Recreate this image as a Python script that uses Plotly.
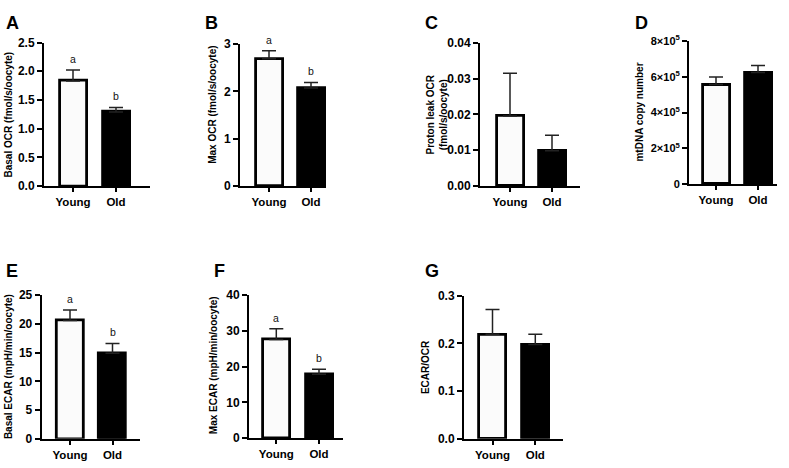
import plotly.graph_objects as go

groups = ["Young", "Old"]

basal_ocr = [1.83, 1.29]
basal_ocr_err = [0.19, 0.08]
max_ocr = [2.69, 2.07]
max_ocr_err = [0.17, 0.12]
proton_leak = [0.0196, 0.0099]
proton_leak_err = [0.0119, 0.0043]
mtdna = [5.57e5, 6.23e5]
mtdna_err = [0.41e5, 0.40e5]
basal_ecar = [20.6, 14.9]
basal_ecar_err = [1.8, 1.7]
max_ecar = [27.6, 17.9]
max_ecar_err = [3.0, 1.4]
ecar_ocr = [0.219, 0.198]
ecar_ocr_err = [0.052, 0.021]

sig_letters = ["a", "b"]

mtdna_ticks = [0, 2e5, 4e5, 6e5, 8e5]
mtdna_ticktext = ["0", "2×10<sup>5</sup>", "4×10<sup>5</sup>", "6×10<sup>5</sup>", "8×10<sup>5</sup>"]

W, H = 789, 468
FONT = "Liberation Sans, Arial, sans-serif"

panels = [
    dict(letter="A", vals=basal_ocr, errs=basal_ocr_err, sig=True,
         title="Basal OCR (fmol/s/oocyte)", ymax=2.5, dtick=0.5, fmt=".1f",
         xs=44, xe=150, c0=73, c1=116, yb=184, yt=35.7,
         tx=8, ty=110, lx=4, ly=15),
    dict(letter="B", vals=max_ocr, errs=max_ocr_err, sig=True,
         title="Max OCR (fmol/s/oocyte)", ymax=3, dtick=1, fmt="d",
         xs=240, xe=326, c0=269, c1=311, yb=184, yt=37.3,
         tx=213, ty=100, lx=203, ly=15),
    dict(letter="C", vals=proton_leak, errs=proton_leak_err, sig=False,
         title="Proton leak OCR<br>(fmol/s/oocyte)", ymax=0.04, dtick=0.01, fmt=".2f",
         xs=480, xe=580, c0=510, c1=552, yb=184, yt=36,
         tx=437, ty=110, lx=423, ly=15),
    dict(letter="D", vals=mtdna, errs=mtdna_err, sig=False,
         title="mtDNA copy number", ymax=8e5, dtick=None, fmt=None,
         xs=689, xe=777, c0=716, c1=758, yb=182, yt=34,
         tx=640, ty=108, lx=633, ly=15),
    dict(letter="E", vals=basal_ecar, errs=basal_ecar_err, sig=True,
         title="Basal ECAR (mpH/min/oocyte)", ymax=25, dtick=5, fmt="d",
         xs=41.7, xe=140, c0=70, c1=112.5, yb=445, yt=296.7,
         tx=8, ty=371, lx=4, ly=272),
    dict(letter="F", vals=max_ecar, errs=max_ecar_err, sig=True,
         title="Max ECAR (mpH/min/oocyte)", ymax=40, dtick=10, fmt="d",
         xs=249, xe=343, c0=276.3, c1=319, yb=444.5, yt=296.7,
         tx=213, ty=369, lx=212, ly=272),
    dict(letter="G", vals=ecar_ocr, errs=ecar_ocr_err, sig=False,
         title="ECAR/OCR", ymax=0.3, dtick=0.1, fmt=".1f",
         xs=464, xe=563, c0=492.5, c1=535.3, yb=445, yt=297.3,
         tx=425, ty=371, lx=423, ly=272),
]

fig = go.Figure()
annotations = []
layout = {}

for i, p in enumerate(panels):
    n = "" if i == 0 else str(i + 1)
    xa, ya = "x" + n, "y" + n
    s = p["c1"] - p["c0"]
    xr = [(p["xs"] - p["c0"]) / s, 1 + (p["xe"] - p["c1"]) / s]
    bw = 27.0 / s
    for j, g in enumerate(groups):
        fill = "#fbfbfb" if j == 0 else "black"
        fig.add_trace(go.Bar(
            x=[g], y=[p["vals"][j]], xaxis=xa, yaxis=ya, width=bw,
            marker=dict(color=fill, line=dict(color="black", width=2.8)),
            error_y=dict(type="data", array=[p["errs"][j]], arrayminus=[0],
                         symmetric=False, color="#222222", thickness=1.5, width=7),
            showlegend=False, hoverinfo="skip"))
        if p["sig"]:
            annotations.append(dict(
                x=g, y=p["vals"][j] + p["errs"][j], xref=xa, yref=ya,
                text=sig_letters[j], showarrow=False, yanchor="bottom", yshift=3,
                font=dict(family=FONT, size=10.5, color="#111")))
    xaxis = dict(domain=[p["xs"] / W, p["xe"] / W], range=xr, anchor=ya,
                 type="category", categoryorder="array", categoryarray=groups,
                 showline=True, linewidth=2, linecolor="black", ticks="outside",
                 ticklen=4, tickwidth=1.5, tickcolor="black", showgrid=False,
                 zeroline=False, fixedrange=True,
                 tickfont=dict(family=FONT, size=11.5, color="black", weight="bold"))
    yaxis = dict(domain=[1 - p["yb"] / H, 1 - p["yt"] / H], range=[0, p["ymax"]],
                 anchor=xa, showline=True, linewidth=2, linecolor="black",
                 ticks="outside", ticklen=5, tickwidth=1.5, tickcolor="black",
                 showgrid=False, zeroline=False, fixedrange=True,
                 tickfont=dict(family=FONT, size=12, color="black", weight="bold"))
    if p["dtick"] is not None:
        yaxis.update(tick0=0, dtick=p["dtick"], tickformat=p["fmt"])
    else:
        yaxis.update(tickmode="array", tickvals=mtdna_ticks, ticktext=mtdna_ticktext,
                     tickfont=dict(family=FONT, size=11, color="black", weight="bold"))
    layout["xaxis" + n] = xaxis
    layout["yaxis" + n] = yaxis
    annotations.append(dict(
        x=p["tx"] / W, y=1 - p["ty"] / H, xref="paper", yref="paper",
        text="<b>" + p["title"] + "</b>", textangle=-90, showarrow=False,
        xanchor="center", yanchor="middle",
        font=dict(family=FONT, size=10, color="black")))
    annotations.append(dict(
        x=p["lx"] / W, y=1 - p["ly"] / H, xref="paper", yref="paper",
        text="<b>" + p["letter"] + "</b>", showarrow=False,
        xanchor="left", yanchor="middle",
        font=dict(family=FONT, size=18, color="black")))

fig.update_layout(
    width=W, height=H, margin=dict(l=0, r=0, t=0, b=0),
    paper_bgcolor="white", plot_bgcolor="white",
    annotations=annotations, bargap=0, **layout)

fig.write_html("out.html", config={"displayModeBar": False},
               post_script="document.body.style.margin='0';document.body.style.overflow='hidden';")
